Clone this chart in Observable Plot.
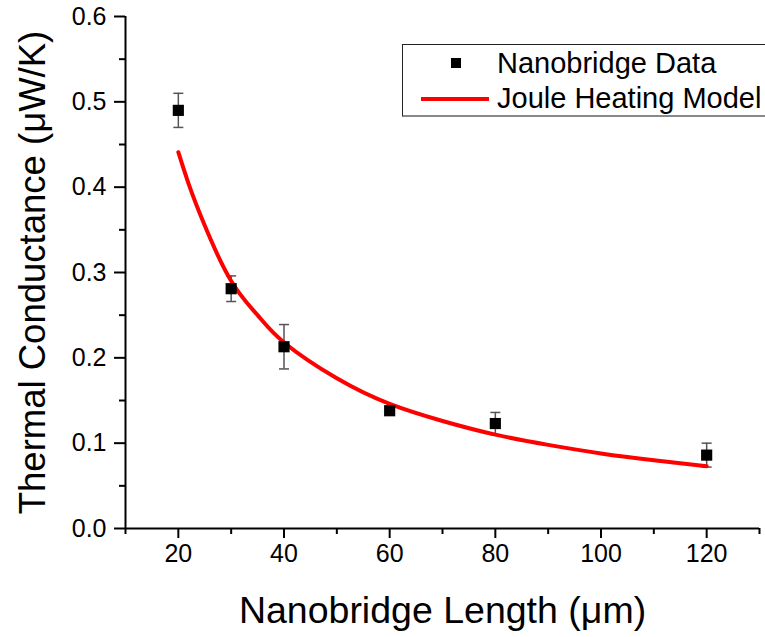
<!DOCTYPE html>
<html>
<head>
<meta charset="utf-8">
<script src="https://cdn.jsdelivr.net/npm/d3@7"></script>
<script src="https://cdn.jsdelivr.net/npm/@observablehq/plot@0.6"></script>
<style>
  html, body { margin: 0; padding: 0; background: #fff; overflow: hidden; }
  #wrap { position: relative; width: 765px; height: 637px; font-family: "Liberation Sans", Arial, sans-serif; }
  #legend { position: absolute; left: 402px; top: 44px; width: 400px; height: 70px;
    border-top: 1px solid #222; border-left: 1px solid #222; border-bottom: 2px solid #888; background: #fff; }
  #legend .row { position: absolute; left: 0; height: 34px; display: flex; align-items: center; font-size: 29px; color: #000; white-space: nowrap; }
  #legend .sym { width: 94px; height: 34px; position: relative; }
</style>
</head>
<body>
<div id="wrap"></div>
<script>
// Data
const lengths = [20, 30, 40, 60, 80, 120];
const conductance = [0.490, 0.281, 0.213, 0.138, 0.123, 0.086];
const errors = [0.020, 0.015, 0.026, 0.005, 0.013, 0.014];

const modelLength = [20, 22, 25, 30, 35, 40, 50, 60, 70, 80, 90, 100, 110, 120];
const modelConductance = [0.441, 0.403, 0.355, 0.290, 0.250, 0.218, 0.176, 0.146, 0.126, 0.110, 0.098, 0.088, 0.080, 0.073];

const xMajor = [20, 40, 60, 80, 100, 120];
const xMinor = [10, 30, 50, 70, 90, 110, 130];
const yMajor = [0.0, 0.1, 0.2, 0.3, 0.4, 0.5, 0.6];
const yMinor = [0.05, 0.15, 0.25, 0.35, 0.45, 0.55];

const points = lengths.map((x, i) => ({x, y: conductance[i], lo: conductance[i] - errors[i], hi: conductance[i] + errors[i]}));
const model = modelLength.map((x, i) => ({x, y: modelConductance[i]}));

const capSymbol = {
  draw(ctx, size) {
    const r = Math.sqrt(size / Math.PI);
    ctx.moveTo(-r, 0);
    ctx.lineTo(r, 0);
  }
};

const chart = Plot.plot({
  width: 765,
  height: 637,
  marginLeft: 125,
  marginRight: 6,
  marginTop: 16,
  marginBottom: 109,
  style: {fontFamily: '"Liberation Sans", Arial, sans-serif', color: "#000", background: "#fff", overflow: "visible"},
  x: {domain: [10, 130]},
  y: {domain: [0, 0.6]},
  marks: [
    Plot.axisX({ticks: xMinor, tickSize: 6, strokeWidth: 2, tickFormat: () => "", label: null}),
    Plot.axisX({ticks: xMajor, tickSize: 10, strokeWidth: 2, tickPadding: 6, fontSize: 25, tickFormat: d3.format("d"),
      label: "Nanobridge Length (μm)", labelAnchor: "center", labelArrow: "none", labelOffset: 94}),
    Plot.axisY({ticks: yMinor, tickSize: 6, strokeWidth: 2, tickFormat: () => "", label: null}),
    Plot.axisY({ticks: yMajor, tickSize: 11, strokeWidth: 2, tickPadding: 8, fontSize: 25, tickFormat: d3.format(".1f"),
      label: "Thermal Conductance (μW/K)", labelAnchor: "center", labelArrow: "none", labelOffset: 106}),
    Plot.ruleX([10], {stroke: "#000", strokeWidth: 2}),
    Plot.ruleY([0], {stroke: "#000", strokeWidth: 2}),
    Plot.ruleX(points, {x: "x", y1: "lo", y2: "hi", stroke: "#555", strokeWidth: 1.5}),
    Plot.dot(points, {x: "x", y: "hi", symbol: capSymbol, r: 5, stroke: "#555", strokeWidth: 1.5}),
    Plot.dot(points, {x: "x", y: "lo", symbol: capSymbol, r: 5, stroke: "#555", strokeWidth: 1.5}),
    Plot.line(model, {x: "x", y: "y", stroke: "#ff0000", strokeWidth: 4, curve: "natural"}),
    Plot.dot(points, {x: "x", y: "y", symbol: "square", r: 6.3, fill: "#000", stroke: "none"})
  ]
});

// font sizes of tick labels and axis titles
chart.querySelectorAll("text").forEach(t => {
  if (/^[\d.]+$/.test(t.textContent.trim())) {
    t.style.fontSize = "25px";
    t.parentNode.setAttribute("font-size", "25");
  }
});
chart.querySelectorAll('[aria-label="x-axis label"] text').forEach(t => { t.style.fontSize = "37.5px"; });
chart.querySelectorAll('[aria-label="y-axis label"] text').forEach(t => { t.style.fontSize = "36.5px"; });

const wrap = document.getElementById("wrap");
wrap.appendChild(chart);

const legend = document.createElement("div");
legend.id = "legend";
legend.innerHTML = `
  <div class="row" style="top:1px"><div class="sym"><div style="position:absolute;left:48px;top:12px;width:10px;height:10px;background:#000"></div></div><span>Nanobridge Data</span></div>
  <div class="row" style="top:36px"><div class="sym"><div style="position:absolute;left:18px;top:16px;width:68px;height:4px;background:#ff0000"></div></div><span>Joule Heating Model</span></div>
`;
wrap.appendChild(legend);
</script>
</body>
</html>
